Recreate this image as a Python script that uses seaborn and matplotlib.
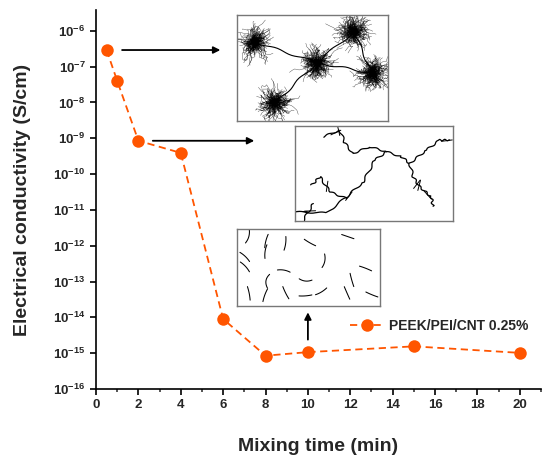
import numpy as np
import pandas as pd
import matplotlib
matplotlib.use("Agg")
import matplotlib.pyplot as plt
from matplotlib.ticker import FixedLocator, FuncFormatter, NullLocator
import seaborn as sns

# data
mixing_time = [0.5, 1, 2, 4, 6, 8, 10, 15, 20]
conductivity = [2.9e-7, 4.0e-8, 8.5e-10, 3.9e-10, 9.0e-15, 8.5e-16, 1.07e-15, 1.55e-15, 1.02e-15]
series_label = "PEEK/PEI/CNT 0.25%"
x_ticks = list(range(0, 21, 2))
y_exponents = list(range(-16, -5))

ORANGE = "#FF5500"

sns.set_style("ticks")
plt.rcParams["font.family"] = ["Liberation Sans", "DejaVu Sans"]
plt.rcParams["font.weight"] = "bold"
plt.rcParams["mathtext.fontset"] = "custom"
plt.rcParams["mathtext.rm"] = "Liberation Sans:bold"
plt.rcParams["mathtext.bf"] = "Liberation Sans:bold"
plt.rcParams["mathtext.it"] = "Liberation Sans:bold"
plt.rcParams["mathtext.default"] = "bf"

df = pd.DataFrame({"time": mixing_time, "sigma": conductivity})

fig = plt.figure(figsize=(5.5, 4.63), dpi=100)
ax = fig.add_axes([96 / 550, 1 - 389 / 463, 445 / 550, 379 / 463])

sns.lineplot(data=df, x="time", y="sigma", ax=ax, color=ORANGE, marker="o",
             markersize=9, markeredgewidth=0, linewidth=1.3,
             linestyle=(0, (4, 2.5)), label=series_label)

ax.set_yscale("log")
ax.set_ylim(1e-16, 3.8e-6)
ax.set_xlim(0, 21)
ax.yaxis.set_major_locator(FixedLocator([10.0 ** e for e in y_exponents]))
ax.yaxis.set_minor_locator(NullLocator())
ax.yaxis.set_major_formatter(FuncFormatter(lambda v, p: "$10^{%d}$" % round(np.log10(v))))
ax.set_xticks(x_ticks)
ax.set_xticks(np.arange(1, 22, 2), minor=True)

ax.tick_params(axis="both", which="major", direction="out", length=4, width=1.2,
               labelsize=9.5, color="black")
ax.tick_params(axis="x", which="minor", direction="out", length=2.5, width=1.1)
for lbl in ax.get_xticklabels() + ax.get_yticklabels():
    lbl.set_fontweight("bold")

for side in ["top", "right"]:
    ax.spines[side].set_visible(False)
for side in ["left", "bottom"]:
    ax.spines[side].set_linewidth(1.2)
    ax.spines[side].set_color("black")

ax.set_xlabel("Mixing time (min)", fontsize=14, fontweight="bold", labelpad=19)
ax.set_ylabel("Electrical conductivity (S/cm)", fontsize=14, fontweight="bold", labelpad=16)

leg = ax.legend(loc="center left", bbox_to_anchor=(343 / 550, 1 - 326 / 463),
                bbox_transform=fig.transFigure, frameon=False, borderpad=0,
                handlelength=2.5, handletextpad=0.3, fontsize=10)
for t in leg.get_texts():
    t.set_fontweight("bold")

# arrows pointing to the schematics
arrow_kw = dict(arrowstyle="-|>", color="black", lw=1.3, mutation_scale=10)
ax.annotate("", xy=(6.0, conductivity[0]), xytext=(1.1, conductivity[0]), arrowprops=arrow_kw)
ax.annotate("", xy=(7.6, conductivity[2]), xytext=(2.55, conductivity[2]), arrowprops=arrow_kw)
ax.annotate("", xy=(10, 1.65e-14), xytext=(10, 2.0e-15), arrowprops=arrow_kw)

# ---- schematic insets (decoration) ----
rng = np.random.default_rng(7)


def inset(box):
    l, t, r, b = box
    a = fig.add_axes([l / 550, 1 - b / 463, (r - l) / 550, (b - t) / 463])
    a.set_xlim(0, 1)
    a.set_ylim(0, 1)
    a.set_xticks([])
    a.set_yticks([])
    for s in a.spines.values():
        s.set_visible(True)
        s.set_color("#777777")
        s.set_linewidth(1.0)
    a.set_facecolor("white")
    return a


def wavy(a, pts, lw=0.9, amp=0.01, n=20):
    # smooth wiggle along a polyline
    pts = np.asarray(pts, dtype=float)
    xs, ys = [], []
    for i in range(len(pts) - 1):
        t = np.linspace(0, 1, n, endpoint=False)
        ph = rng.uniform(0, 2 * np.pi)
        w = amp * np.sin(2 * np.pi * t * rng.uniform(1, 2) + ph)
        d = pts[i + 1] - pts[i]
        nrm = np.array([-d[1], d[0]]) / (np.hypot(*d) + 1e-9)
        xs.extend(pts[i, 0] + d[0] * t + nrm[0] * w)
        ys.extend(pts[i, 1] + d[1] * t + nrm[1] * w)
    xs.append(pts[-1, 0])
    ys.append(pts[-1, 1])
    a.plot(xs, ys, color="black", lw=lw, solid_capstyle="round")
    return np.array([xs, ys]).T


# inset 1: agglomerates connected by strands
ax1 = inset((237, 15, 388, 121))
cluster_xy = [(0.12, 0.745), (0.77, 0.84), (0.53, 0.55), (0.9, 0.45), (0.25, 0.17)]
links = [(0, 2), (2, 1), (2, 3), (2, 4), (1, 3)]
for i, j in links:
    wavy(ax1, [cluster_xy[i], cluster_xy[j]], lw=0.8, amp=0.01)
for cx, cy in cluster_xy:
    for k in range(170):
        ang = rng.uniform(0, 2 * np.pi)
        rad = rng.uniform(0.35, 1.0)
        t = np.linspace(0, 1, 8)
        steps = rng.normal(0, 0.012, (8, 2)).cumsum(axis=0)
        px = cx + np.cos(ang) * rad * 0.1 * t + steps[:, 0]
        py = cy + np.sin(ang) * rad * 0.15 * t + steps[:, 1] * 1.4
        ax1.plot(px, py, color="black", lw=0.3, alpha=0.75)

# inset 2: branched network
ax2 = inset((295, 126, 453, 221))
paths = [
    [(0.0, 0.095), (0.2, 0.085), (0.327, 0.254), (0.432, 0.412), (0.505, 0.641), (0.579, 0.729),
     (0.674, 0.676), (0.726, 0.606), (0.747, 0.465), (0.79, 0.359), (0.863, 0.254), (0.874, 0.155)],
    [(0.179, 0.887), (0.284, 0.958), (0.316, 0.817), (0.368, 0.712), (0.474, 0.782), (0.579, 0.729)],
    [(0.726, 0.606), (0.832, 0.747), (0.916, 0.852), (0.979, 0.852)],
    [(0.105, 0.377), (0.158, 0.465), (0.221, 0.306), (0.327, 0.236)],
    [(0.053, 0.007), (0.116, 0.184)],
]
for p in paths:
    line = wavy(ax2, p, lw=0.9, amp=0.008, n=14)
    picks = rng.choice(len(line), size=max(1, len(line) // 30), replace=False)
    for q in line[picks]:
        ang = rng.uniform(0, np.pi)
        dx, dy = np.cos(ang) * 0.035, np.sin(ang) * 0.055
        ax2.plot([q[0] - dx, q[0] + dx], [q[1] - dy, q[1] + dy], color="black", lw=0.7)

# inset 3: dispersed individual tubes
ax3 = inset((237, 229, 380, 306))
for gx in np.linspace(0.07, 0.93, 7):
    for gy in np.linspace(0.15, 0.85, 4):
        if rng.random() < 0.15:
            continue
        cx, cy = gx + rng.normal(0, 0.03), gy + rng.normal(0, 0.05)
        ang = rng.uniform(0, np.pi)
        t = np.linspace(-1, 1, 10)
        bend = rng.normal(0, 0.35)
        px = cx + np.cos(ang) * 0.045 * t - np.sin(ang) * 0.02 * bend * (1 - t ** 2)
        py = cy + np.sin(ang) * 0.09 * t + np.cos(ang) * 0.04 * bend * (1 - t ** 2)
        ax3.plot(px, py, color="black", lw=0.75)

fig.savefig("out.png", dpi=100)
